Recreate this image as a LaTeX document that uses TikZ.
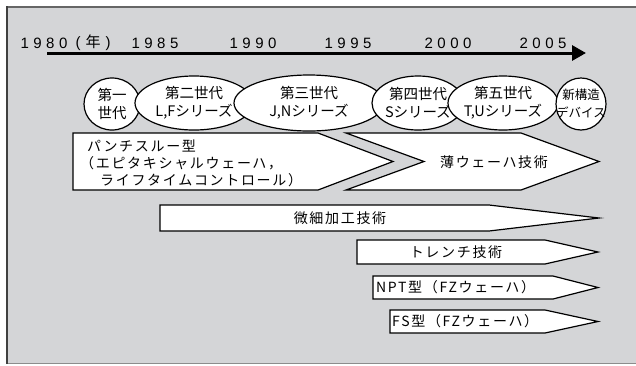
\documentclass[tikz,border=0pt]{standalone}
\usepackage{fontspec}
\setmainfont{Noto Sans CJK JP}
\newfontfamily\yearfont[LetterSpace=30]{Liberation Sans}
\newfontfamily\cjkplain{Noto Sans CJK JP}
\newfontfamily\jpspaced[LetterSpace=12]{Noto Sans CJK JP}
\usetikzlibrary{arrows.meta,shapes.geometric}
\definecolor{panelgray}{HTML}{D4D5D7}
\tikzset{
  yearlbl/.style={inner sep=0pt, font=\yearfont\fontsize{15}{18}\selectfont},
  genell/.style={ellipse, draw=black, line width=1.2pt, fill=white, inner sep=0pt},
  gentext/.style={inner sep=0pt, align=center, font=\fontsize{14.5}{18}\selectfont},
  techshape/.style={draw=black, line width=1.2pt, fill=white, line join=miter},
  techtext/.style={inner sep=0pt, font=\jpspaced\fontsize{14}{17}\selectfont},
}
\begin{document}
\begin{tikzpicture}[x=1pt,y=-1pt]
\useasboundingbox (0,0) rectangle (636,365);
\fill[white] (0,0) rectangle (636,365);
\fill[panelgray] (7,7) rectangle (640,363);
\draw[line width=1.2pt, black!60] (7,7) -- (640,7);
\draw[line width=1pt, black!45] (7,363) -- (640,363);
\draw[line width=2pt, black!75] (7,6) -- (7,364);

% time axis
\coordinate (axs) at (47,53);
\coordinate (axe) at (586,53);
\draw[line width=3pt, -{Triangle[length=14pt,width=15pt]}] (axs) -- (axe);
\node[yearlbl] (y1980) at (44,43) {1980};
\node[yearlbl] (ynen) at (93,43) {(\hspace{5pt}{\cjkplain\fontsize{15}{18}\selectfont 年}\hspace{5pt})};
\node[yearlbl] (y1985) at (155,43) {1985};
\node[yearlbl] (y1990) at (253,43) {1990};
\node[yearlbl] (y1995) at (348,43) {1995};
\node[yearlbl] (y2000) at (448,43) {2000};
\node[yearlbl] (y2005) at (543,43) {2005};

% generations
\node[genell, minimum width=56pt, minimum height=52pt] (g1) at (112,104) {};
\node[gentext] (t1) at (g1) {第一\\世代};
\node[genell, minimum width=118pt, minimum height=54pt] (g2) at (194,103) {};
\node[gentext] (t2) at (g2) {第二世代\\L,Fシリーズ};
\node[genell, minimum width=150pt, minimum height=56pt] (g3) at (309,103) {};
\node[gentext] (t3) at (g3) {第三世代\\J,Nシリーズ};
\node[genell, minimum width=92pt, minimum height=54pt] (g4) at (418,103) {};
\node[gentext] (t4) at (g4) {第四世代\\Sシリーズ};
\node[genell, minimum width=110pt, minimum height=54pt] (g5) at (503,103) {};
\node[gentext] (t5) at (g5) {第五世代\\T,Uシリーズ};
\node[genell, minimum width=50pt, minimum height=52pt] (g6) at (581,104) {};
\node[gentext, font=\fontsize{12.5}{18}\selectfont] (t6) at (g6) {新構造\\デバイス};

% technology arrows
\draw[techshape] (73,133) -- (318,133) -- (393,161.5) -- (318,190) -- (73,190) -- cycle;
\node[techtext, anchor=west] (a1) at (87,146) {パンチスルー型};
\node[techtext, anchor=west] (a2) at (80,163) {（エピタキシャルウェーハ，};
\node[techtext, anchor=west] (a3) at (100,180) {ライフタイムコントロール）};

\draw[techshape] (346,133) -- (521,133) -- (599,161.5) -- (521,190) -- (346,190) -- (424,161.5) -- cycle;
\node[techtext] (b1) at (494,162) {薄ウェーハ技術};

\draw[techshape] (160,205) -- (489,205) -- (599,218) -- (489,231) -- (160,231) -- cycle;
\node[techtext] (c1) at (340,218) {微細加工技術};

\draw[techshape] (357,240) -- (545,240) -- (598,252) -- (545,264) -- (357,264) -- cycle;
\node[techtext] (d1) at (456,252) {トレンチ技術};

\draw[techshape] (373,276) -- (553,276) -- (598,287.5) -- (553,299) -- (373,299) -- cycle;
\node[techtext, anchor=west] (e1) at (376,287.5) {NPT型（FZウェーハ）};

\draw[techshape] (390,310) -- (545,310) -- (598,321.5) -- (545,333) -- (390,333) -- cycle;
\node[techtext, anchor=west] (f1) at (392,321.5) {FS型（FZウェーハ）};
\end{tikzpicture}
\end{document}
